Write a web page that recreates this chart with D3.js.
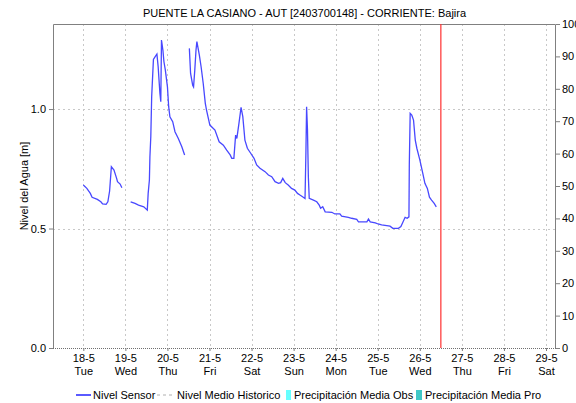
<!DOCTYPE html>
<html>
<head>
<meta charset="utf-8">
<script src="https://cdn.jsdelivr.net/npm/d3@7"></script>
<style>
  body { margin: 0; background: #fff; }
  text { font-family: "Liberation Sans", Arial, sans-serif; font-size: 11px; fill: #000; }
</style>
</head>
<body>
<script>
// chart text
var title = "PUENTE LA CASIANO - AUT [2403700148] - CORRIENTE: Bajira";
var yLabel = "Nivel del Agua [m]";

// time origin: 18-5 00:00 (2021), series times are hours from it
var origin = Date.UTC(2021, 4, 18);
var sensorHours = [0, 2, 4, 5, 8, 10, 11, 13, 14, 15, 16, 17.5, 19, 19.5, 21, 22, 24,
  27, 29.5, 31.5, 34.5, 36.5, 37, 37.7, 38, 38.5, 39, 40, 41, 42, 42.7, 43.2, 43.7, 44.2,
  44.6, 45.4, 46, 46.8, 48, 48.7, 49.4, 51, 52.3, 54.2, 56.2, 57.8, 59,
  60.5, 61.2, 62.4, 62.9, 63.6, 64.3, 64.8, 65.5, 66.2, 67.2, 68.4, 69.6, 70.3, 72.2,
  75.1, 77.5, 79.9, 81.8, 83.8, 84.7, 85.9, 86.9, 87.6, 88.8, 90, 91, 92.2, 93.6, 95.5,
  97.4, 98.9, 100.8, 103.7, 105.6, 107.5, 109.4, 111.4, 112.6, 113.8, 115.2, 116.9,
  118.8, 120.7, 122.2, 123.6, 125.5, 126.5, 127, 127.4, 127.9, 128.4, 128.9, 131.3,
  133.2, 134.6, 135.4, 136.6, 138, 141.8, 143.5, 146.4, 147.4, 151.2, 153.1, 156, 157,
  161.8, 162.7, 163.7, 166.6, 168.2, 170.2, 175, 176.6, 179.8, 181.2, 182.2, 183.6,
  184.8, 185.8, 186, 186.5, 187.4, 188.4, 189.4, 190.3, 192, 193.7, 194.9, 196.3,
  197.5, 198.7, 200.2, 201.4];
var sensorValues = [0.682, 0.668, 0.647, 0.631, 0.622, 0.612, 0.603, 0.601, 0.612, 0.657,
  0.759, 0.745, 0.710, 0.696, 0.686, 0.671, null,
  0.612, 0.605, 0.598, 0.591, 0.577, 0.647, 0.703, 0.800, 0.884, 1.051, 1.208, 1.219,
  1.230, 1.177, 1.121, 1.066, 1.031, 1.289, 1.247, 1.198, 1.163, 1.093, 1.010, 0.968,
  0.947, 0.905, 0.877, 0.842, 0.808, null,
  1.254, 1.149, 1.100, 1.093, 1.163, 1.247, 1.282, 1.254, 1.226, 1.177, 1.108, 1.024,
  0.996, 0.933, 0.912, 0.863, 0.849, 0.828, 0.808, 0.794, 0.794, 0.891, 0.877, 0.940,
  1.007, 0.968, 0.870, 0.836, 0.815, 0.794, 0.766, 0.752, 0.738, 0.724, 0.717, 0.696,
  0.689, 0.692, 0.710, 0.692, 0.682, 0.668, 0.661, 0.647, 0.640, 0.631, 0.626, 0.815,
  1.010, 0.912, 0.717, 0.626, 0.619, 0.612, 0.598, 0.585, 0.591, 0.570, 0.568, 0.561,
  0.561, 0.552, 0.547, 0.543, 0.538, 0.528, 0.528, 0.540, 0.528, 0.524, 0.519, 0.515,
  0.510, 0.501, 0.501, 0.508, 0.524, 0.547, 0.543, 0.549, 0.766, 0.982, 0.975, 0.954,
  0.870, 0.836, 0.787, 0.731, 0.689, 0.668, 0.631, 0.619, 0.605, 0.591];

// current time marker (hours from origin)
var nowHour = 204;

// axis ticks
var leftTicks = [0.0, 0.5, 1.0];
var rightTicks = [0, 10, 20, 30, 40, 50, 60, 70, 80, 90, 100];
var dayTicks = [0, 1, 2, 3, 4, 5, 6, 7, 8, 9, 10, 11]; // days after origin

// legend
var legendLabels = ["Nivel Sensor", "Nivel Medio Historico", "Precipitación Media Obs", "Precipitación Media Pro"];

// plot box
var margin = {top: 24, right: 20, bottom: 55, left: 53},
    W = 576, H = 403,
    width = W - margin.left - margin.right,
    height = H - margin.top - margin.bottom;

var hour = 3600 * 1000;
var x = d3.scaleUtc()
    .domain([new Date(origin - 17.3 * hour), new Date(origin + 269.7 * hour)])
    .range([0, width]);
var y = d3.scaleLinear().domain([0, 1.356]).range([height, 0]);
var y2 = d3.scaleLinear().domain([0, 100]).range([height, 0]);

var svg = d3.select("body").append("svg")
    .attr("width", W)
    .attr("height", H);

svg.append("text")
    .attr("x", margin.left + width / 2)
    .attr("y", 17)
    .attr("text-anchor", "middle")
    .text(title);

var g = svg.append("g")
    .attr("transform", "translate(" + margin.left + "," + margin.top + ")");

var days = dayTicks.map(function(d) { return new Date(origin + d * 24 * hour); });

// grid
g.selectAll(".vgrid").data(days).enter().append("line")
    .attr("x1", function(d) { return Math.round(x(d)) + 0.5; })
    .attr("x2", function(d) { return Math.round(x(d)) + 0.5; })
    .attr("y1", 0).attr("y2", height)
    .attr("stroke", "#c8c8c8").attr("stroke-dasharray", "2,3");
g.selectAll(".hgrid").data(leftTicks.slice(1)).enter().append("line")
    .attr("x1", 0).attr("x2", width)
    .attr("y1", function(d) { return Math.round(y(d)) + 0.5; })
    .attr("y2", function(d) { return Math.round(y(d)) + 0.5; })
    .attr("stroke", "#c8c8c8").attr("stroke-dasharray", "2,3");

// frame
g.append("path")
    .attr("d", "M0.5," + height + "V0.5H" + (width - 0.5) + "V" + height)
    .attr("fill", "none").attr("stroke", "#808080");
g.append("line")
    .attr("x1", 0).attr("x2", width)
    .attr("y1", height + 0.5).attr("y2", height + 0.5)
    .attr("stroke", "#707070").attr("stroke-dasharray", "1,1");

// left axis
var yAxis = g.append("g")
    .call(d3.axisLeft(y).tickValues(leftTicks).tickSize(4).tickFormat(d3.format(".1f")));
yAxis.select(".domain").remove();
yAxis.selectAll("line").attr("stroke", "#808080");
yAxis.selectAll("text").attr("font-size", null).attr("font-family", null);

// right axis
var y2Axis = g.append("g")
    .attr("transform", "translate(" + width + ",0)")
    .call(d3.axisRight(y2).tickValues(rightTicks).tickSize(4).tickPadding(2));
y2Axis.select(".domain").remove();
y2Axis.selectAll("line").attr("stroke", "#808080");
y2Axis.selectAll("text").attr("font-size", null).attr("font-family", null);

// bottom axis: date and weekday
var xAxis = g.append("g")
    .attr("transform", "translate(0," + height + ")")
    .call(d3.axisBottom(x).tickValues(days).tickSize(3).tickFormat(d3.utcFormat("%-d-%-m")));
xAxis.select(".domain").remove();
xAxis.selectAll("line").attr("stroke", "#808080");
xAxis.selectAll("text").attr("font-size", null).attr("font-family", null).attr("y", 6);
xAxis.selectAll(".tick").append("text")
    .attr("y", 19).attr("dy", "0.71em")
    .attr("fill", "#000")
    .text(function(d) { return d3.utcFormat("%a")(d); });

// y label
svg.append("text")
    .attr("transform", "translate(28," + (margin.top + height / 2) + ") rotate(-90)")
    .attr("text-anchor", "middle")
    .attr("font-size", "10px")
    .text(yLabel);

// sensor line
var sensor = sensorHours.map(function(h, i) {
  return {t: new Date(origin + h * hour), v: sensorValues[i]};
});
var line = d3.line()
    .defined(function(d) { return d.v !== null; })
    .x(function(d) { return x(d.t); })
    .y(function(d) { return y(d.v); });
g.append("path")
    .datum(sensor)
    .attr("d", line)
    .attr("fill", "none")
    .attr("stroke", "#4848ff")
    .attr("stroke-width", 1.3);

// now marker
var xn = x(new Date(origin + nowHour * hour));
g.append("line")
    .attr("x1", xn).attr("x2", xn)
    .attr("y1", 0).attr("y2", height)
    .attr("stroke", "#ff3030").attr("stroke-width", 1.2);

// legend
var ly = 395;
var lg = svg.append("g");
lg.append("line").attr("x1", 76).attr("x2", 91).attr("y1", ly).attr("y2", ly)
    .attr("stroke", "#0000ff").attr("stroke-width", 1.3);
lg.append("text").attr("x", 93).attr("y", ly + 4).text(legendLabels[0]);
lg.append("line").attr("x1", 157).attr("x2", 174).attr("y1", ly).attr("y2", ly)
    .attr("stroke", "#b0b0b0").attr("stroke-dasharray", "3,3");
lg.append("text").attr("x", 177).attr("y", ly + 4).text(legendLabels[1]);
lg.append("rect").attr("x", 286).attr("y", 390).attr("width", 5).attr("height", 10)
    .attr("fill", "#66ffff");
lg.append("text").attr("x", 294).attr("y", ly + 4).text(legendLabels[2]);
lg.append("rect").attr("x", 416).attr("y", 390).attr("width", 6).attr("height", 10)
    .attr("fill", "#40c8c8");
lg.append("text").attr("x", 425).attr("y", ly + 4).text(legendLabels[3]);
</script>
</body>
</html>
